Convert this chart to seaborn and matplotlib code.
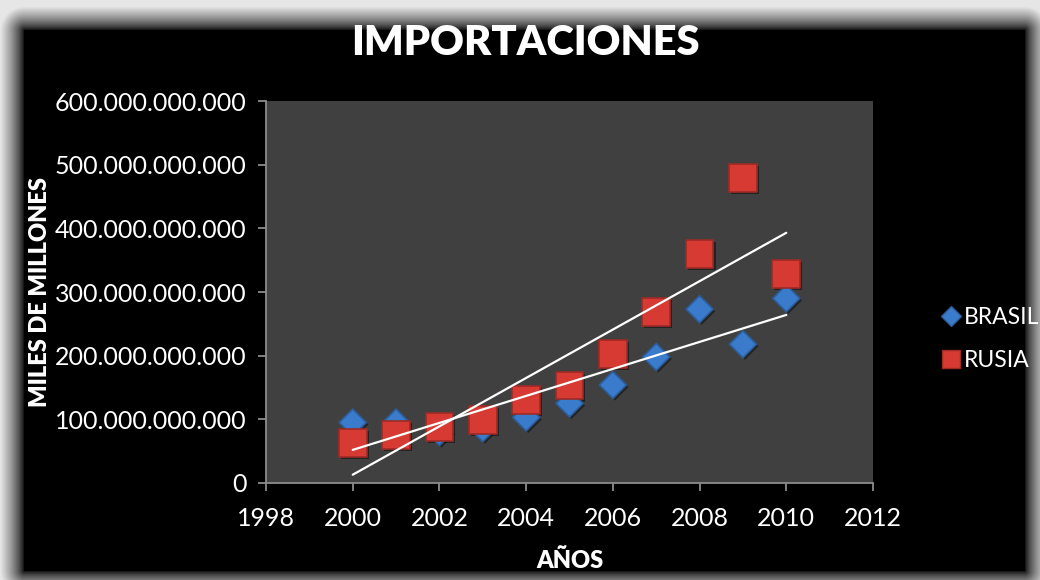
import numpy as np
import pandas as pd
import matplotlib
matplotlib.use("Agg")
import matplotlib.pyplot as plt
import matplotlib.ticker as mticker
import matplotlib.patheffects as pe
import seaborn as sns
from matplotlib.lines import Line2D

# ---- data ----
years = [2000, 2001, 2002, 2003, 2004, 2005, 2006, 2007, 2008, 2009, 2010]
brasil = [95e9, 95e9, 80e9, 86e9, 103e9, 125e9, 154e9, 198e9, 273e9, 218e9, 290e9]
rusia = [63e9, 75e9, 88e9, 99e9, 130e9, 153e9, 203e9, 269e9, 360e9, 479e9, 328e9]
trend_years = [2000, 2010]
trend_brasil = [52e9, 264e9]
trend_rusia = [13e9, 393e9]
series_names = ["BRASIL", "RUSIA"]
x_ticks = [1998, 2000, 2002, 2004, 2006, 2008, 2010, 2012]
y_ticks = [0, 100e9, 200e9, 300e9, 400e9, 500e9, 600e9]
title = "IMPORTACIONES"
x_label = "AÑOS"
y_label = "MILES DE MILLONES"

df = pd.DataFrame({
    "year": years * 2,
    "value": brasil + rusia,
    "serie": [series_names[0]] * len(years) + [series_names[1]] * len(years),
})

sns.set_style("dark")
plt.rcParams["font.family"] = ["Lato", "DejaVu Sans"]

W, H = 1040, 580
fig = plt.figure(figsize=(W / 100, H / 100), dpi=100, facecolor="black")

# background glow frame
bg = fig.add_axes([0, 0, 1, 1], zorder=-10)
yy, xx = np.mgrid[0:H, 0:W]
L, T, R, B = 24, 30, 1024, 570
dx = np.maximum(np.maximum(L - xx, 0), xx - R)
dy = np.maximum(np.maximum(T - yy, 0), yy - B)
d = np.sqrt(dx ** 2 + dy ** 2)
val = np.clip(d / 24.0, 0, 1) ** 0.7 * 0.9
bg.imshow(val, cmap="gray", vmin=0, vmax=1, aspect="auto", interpolation="bilinear")
bg.axis("off")

ax = fig.add_axes([266 / W, 97 / H, (873 - 266) / W, (483 - 101) / H])
ax.set_facecolor("#404040")

palette = {"BRASIL": "#3b7bcc", "RUSIA": "#d63a33"}
sns.scatterplot(data=df, x="year", y="value", hue="serie", style="serie",
                markers={"BRASIL": "D", "RUSIA": "s"},
                palette=palette, s=400, ax=ax, legend=False, zorder=3,
                linewidth=1.2,
                edgecolor=["#2c5d9a"] * len(years) + ["#9e2a25"] * len(years))
coll = ax.collections[0]
coll.set_sizes([190] * len(years) + [400] * len(years))
coll.set_path_effects([pe.SimplePatchShadow(offset=(1.5, -1.5), shadow_rgbFace="black", alpha=0.45),
                       pe.Normal()])

ax.plot(trend_years, trend_brasil, color="white", lw=1.6, zorder=4)
ax.plot(trend_years, trend_rusia, color="white", lw=1.6, zorder=4)

ax.set_xlim(1998, 2012)
ax.set_ylim(0, 600e9)
ax.set_xticks(x_ticks)
ax.set_yticks(y_ticks)
ax.yaxis.set_major_formatter(mticker.FuncFormatter(lambda v, p: f"{int(round(v)):,}".replace(",", ".")))
ax.grid(False)
for s in ["top", "right"]:
    ax.spines[s].set_visible(False)
for s in ["left", "bottom"]:
    ax.spines[s].set_visible(True)
    ax.spines[s].set_color("#8c8c8c")
    ax.spines[s].set_linewidth(1.3)
ax.tick_params(axis="both", colors="white", labelsize=18, length=6, width=1.3,
               direction="out", color="#8c8c8c", left=True, bottom=True)
ax.tick_params(axis="y", pad=8)
ax.tick_params(axis="x", pad=11)

ax.set_xlabel(x_label, color="white", fontsize=17, fontweight="heavy", labelpad=14)
ax.set_ylabel(y_label, color="white", fontsize=17, fontweight="heavy", labelpad=3)
fig.text(525 / W, 1 - 43 / H, title, color="white", fontsize=30, fontweight="heavy",
         ha="center", va="center")

# legend
handles = [
    Line2D([], [], marker="D", ls="none", color=palette["BRASIL"], markeredgecolor="#2c5d9a", markersize=10),
    Line2D([], [], marker="s", ls="none", color=palette["RUSIA"], markeredgecolor="#9e2a25", markersize=13),
]
leg = fig.legend(handles, series_names, loc="center left",
                 bbox_to_anchor=(940 / W, 1 - 339 / H), frameon=False,
                 fontsize=16.5, labelcolor="white", handletextpad=0.05,
                 labelspacing=1.0, handlelength=1.0, borderaxespad=0, borderpad=0)

fig.savefig("out.png", dpi=100, facecolor="black")
